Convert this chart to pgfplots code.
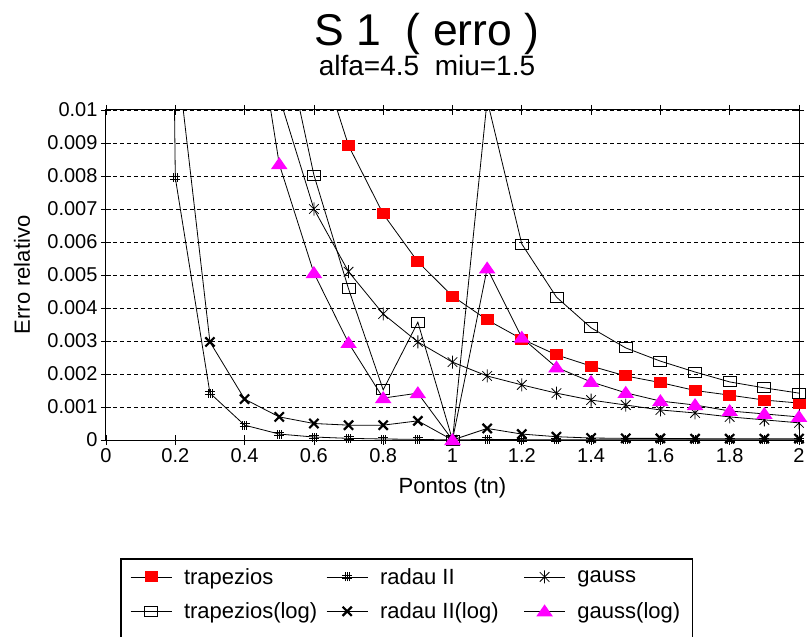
\documentclass[border=0pt]{standalone}
\usepackage{fontspec}
\setmainfont{Liberation Sans}
\usepackage{pgfplots}
\usepackage{pgfplotstable}
\pgfplotsset{compat=1.18}
\definecolor{mag}{RGB}{255,0,255}
\definecolor{rd}{RGB}{255,0,0}

\pgfdeclareplotmark{rectfill}{\pgfpathrectangle{\pgfpoint{-6.5pt}{-5.5pt}}{\pgfpoint{13pt}{11pt}}\pgfusepathqfill}
\pgfdeclareplotmark{rectopen}{\pgfpathrectangle{\pgfpoint{-6.5pt}{-5pt}}{\pgfpoint{13pt}{10pt}}\pgfusepathqstroke}
\pgfdeclareplotmark{tri}{\pgfpathmoveto{\pgfpoint{-8.3pt}{-5pt}}\pgfpathlineto{\pgfpoint{8.3pt}{-5pt}}\pgfpathlineto{\pgfpoint{0pt}{7pt}}\pgfpathclose\pgfusepathqfill}
\pgfdeclareplotmark{hash}{%
  \pgfpathmoveto{\pgfpoint{-2pt}{-4.5pt}}\pgfpathlineto{\pgfpoint{-2pt}{4.5pt}}%
  \pgfpathmoveto{\pgfpoint{0pt}{-4.5pt}}\pgfpathlineto{\pgfpoint{0pt}{4.5pt}}%
  \pgfpathmoveto{\pgfpoint{2pt}{-4.5pt}}\pgfpathlineto{\pgfpoint{2pt}{4.5pt}}%
  \pgfpathmoveto{\pgfpoint{-5pt}{-1.5pt}}\pgfpathlineto{\pgfpoint{5pt}{-1.5pt}}%
  \pgfpathmoveto{\pgfpoint{-5pt}{1.5pt}}\pgfpathlineto{\pgfpoint{5pt}{1.5pt}}%
  \pgfusepathqstroke}
\pgfdeclareplotmark{ast}{%
  \pgfpathmoveto{\pgfpoint{0pt}{-6.5pt}}\pgfpathlineto{\pgfpoint{0pt}{6.5pt}}%
  \pgfpathmoveto{\pgfpoint{-4.8pt}{-4.8pt}}\pgfpathlineto{\pgfpoint{4.8pt}{4.8pt}}%
  \pgfpathmoveto{\pgfpoint{-4.8pt}{4.8pt}}\pgfpathlineto{\pgfpoint{4.8pt}{-4.8pt}}%
  \pgfusepathqstroke}

\pgfplotstableread{
x y
0.6 0.0122
0.7 0.00892
0.8 0.00685
0.9 0.0054
1.0 0.00436
1.1 0.00364
1.2 0.00306
1.3 0.00258
1.4 0.00224
1.5 0.00194
1.6 0.00174
1.7 0.00150
1.8 0.00136
1.9 0.00121
2.0 0.00112
}\trap
\pgfplotstableread{
x y
0.5 0.0129
0.6 0.00803
0.7 0.00458
0.8 0.00152
0.9 0.00357
1.0 0
1.1 0.0103
1.2 0.00594
1.3 0.00433
1.4 0.0034
1.5 0.00279
1.6 0.00239
1.7 0.00206
1.8 0.00176
1.9 0.00158
2.0 0.00142
}\traplog
\pgfplotstableread{
x y
0.1 0.1
0.2 0.00795
0.3 0.00142
0.4 0.00045
0.5 0.00018
0.6 0.00009
0.7 0.00005
0.8 0.00003
0.9 0.00002
1.0 0
1.1 0.00002
1.2 0.00001
1.3 0.00001
1.4 0.00001
1.5 0.00001
1.6 0.00001
1.7 0.00001
1.8 0.00001
1.9 0.00001
2.0 0.00001
}\radau
\pgfplotstableread{
x y
0.2 0.0121
0.3 0.00297
0.4 0.00124
0.5 0.0007
0.6 0.0005
0.7 0.00045
0.8 0.00045
0.9 0.00058
1.0 0
1.1 0.00035
1.2 0.00018
1.3 0.0001
1.4 0.00006
1.5 0.00005
1.6 0.00005
1.7 0.00004
1.8 0.00004
1.9 0.00004
2.0 0.00004
}\radaulog
\pgfplotstableread{
x y
0.5 0.0104
0.6 0.0070
0.7 0.0051
0.8 0.00382
0.9 0.00297
1.0 0.00236
1.1 0.00194
1.2 0.00167
1.3 0.00142
1.4 0.00121
1.5 0.00106
1.6 0.00091
1.7 0.00082
1.8 0.0007
1.9 0.00061
2.0 0.00052
}\gauss
\pgfplotstableread{
x y
0.4 0.0150
0.5 0.00836
0.6 0.00506
0.7 0.00294
0.8 0.00127
0.9 0.00142
1.0 0
1.1 0.0052
1.2 0.0031
1.3 0.0022
1.4 0.00176
1.5 0.00143
1.6 0.00118
1.7 0.00106
1.8 0.00088
1.9 0.00079
2.0 0.0007
}\gausslog

\begin{document}
\begin{tikzpicture}
\begin{axis}[
  name=ax, at={(0pt,0pt)}, anchor=south west,
  scale only axis, width=693pt, height=330pt,
  xmin=0, xmax=2, ymin=0, ymax=0.01,
  scaled x ticks=false, scaled y ticks=false,
  xtick={0,0.2,0.4,0.6,0.8,1,1.2,1.4,1.6,1.8,2},
  xticklabels={0,0.2,0.4,0.6,0.8,1,1.2,1.4,1.6,1.8,2},
  ytick={0,0.001,0.002,0.003,0.004,0.005,0.006,0.007,0.008,0.009,0.01},
  yticklabels={0,0.001,0.002,0.003,0.004,0.005,0.006,0.007,0.008,0.009,0.01},
  ymajorgrids,
  grid style={black, line width=0.8pt, dash pattern=on 4pt off 3pt},
  axis line style={black, line width=1pt},
  tick style={black, line width=0.8pt},
  major tick length=10pt, tick align=center,
  tick label style={font=\fontsize{20}{24}\selectfont},
  label style={font=\fontsize{22}{26}\selectfont},
  xlabel={Pontos (tn)}, ylabel={Erro relativo},
  xlabel style={at={(axis description cs:0.5,-0.1455)}, anchor=center},
  ylabel style={at={(axis description cs:-0.1212,0.5)}, anchor=center},
  clip mode=individual,
  legend columns=3,
  legend style={name=leg, at={(axis description cs:0.02165,-0.3606)}, anchor=north west,
    draw=none, inner xsep=9pt, inner ysep=6pt,
    font=\fontsize{22}{26}\selectfont, row sep=11pt,
    nodes={inner xsep=3pt, inner ysep=3pt},
    /tikz/every odd column/.style={column sep=9pt},
    /tikz/column 2/.style={column sep=6pt},
    /tikz/column 4/.style={column sep=22pt},
    cells={anchor=west}},
  legend image code/.code={%
    \draw[black, line width=0.8pt] (0pt,0pt) -- (41pt,0pt);
    \draw[mark repeat=2, mark phase=2] plot coordinates {(0pt,0pt) (20.5pt,0pt) (41pt,0pt)};},
]
% lines
\addplot[black, line width=0.8pt, forget plot] table {\trap};
\addplot[black, line width=0.8pt, forget plot] table {\traplog};
\addplot[black, line width=0.8pt, forget plot] table {\radau};
\addplot[black, line width=0.8pt, forget plot] table {\radaulog};
\addplot[black, line width=0.8pt, forget plot] table {\gauss};
\addplot[black, line width=0.8pt, forget plot] table {\gausslog};
% marks
\addplot[only marks, mark=rectfill, mark options={rd}, restrict y to domain=-1:0.01] table {\trap};
\addlegendentry{trapezios}
\addplot[only marks, mark=hash, mark options={black, line width=0.8pt}, restrict y to domain=-1:0.01] table {\radau};
\addlegendentry{radau II}
\addplot[only marks, mark=ast, mark options={black, line width=0.8pt}, restrict y to domain=-1:0.01] table {\gauss};
\addlegendentry{gauss}
\addplot[only marks, mark=rectopen, mark options={black, line width=0.9pt}, restrict y to domain=-1:0.01] table {\traplog};
\addlegendentry{trapezios(log)}
\addplot[only marks, mark=x, mark size=6.5pt, mark options={black, line width=2.2pt}, restrict y to domain=-1:0.01] table {\radaulog};
\addlegendentry{radau II(log)}
\addplot[only marks, mark=tri, mark options={mag}, restrict y to domain=-1:0.01] table {\gausslog};
\addlegendentry{gauss(log)\hspace{87pt}}
\end{axis}
\draw[black, line width=1.2pt] (leg.north west) rectangle ([yshift=-20pt]leg.south east);
\node[font=\fontsize{44.5}{50}\selectfont, anchor=base] at ([xshift=321pt, yshift=64pt]ax.north west) {S 1\ \ ( erro )};
\node[font=\fontsize{28}{32}\selectfont, anchor=base] at ([xshift=321pt, yshift=34pt]ax.north west) {alfa=4.5\ \ miu=1.5};
\pgfresetboundingbox
\path[use as bounding box] ([xshift=-106pt, yshift=-197pt]ax.south west) rectangle ([xshift=10pt, yshift=110pt]ax.north east);
\end{tikzpicture}
\end{document}
